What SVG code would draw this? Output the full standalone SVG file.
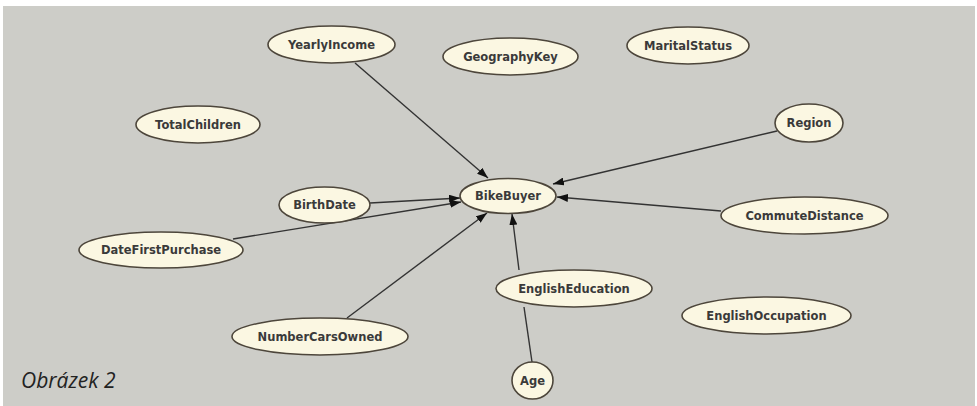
<svg xmlns="http://www.w3.org/2000/svg" width="977" height="406" viewBox="0 0 977 406">
  <style>
    .node ellipse { fill: #fbf7e2; stroke: #4d463b; stroke-width: 1.6; }
    .node text { font-family: "DejaVu Sans", Verdana, sans-serif; font-size: 11.5px; font-weight: bold; fill: #3a3a3a; text-anchor: middle; dominant-baseline: central; }
    .edge { stroke: #333; stroke-width: 1.4; fill: none; }
    .arrow { marker-end: url(#ah); }
    .caption { font-family: "Open Sans", "Liberation Sans", sans-serif; font-style: italic; font-size: 21px; fill: #222; }
  </style>
  <defs>
    <marker id="ah" markerWidth="12" markerHeight="8" refX="11" refY="4" orient="auto" markerUnits="userSpaceOnUse">
      <path d="M0,0 L11,4 L0,8 Z" fill="#111"/>
    </marker>
  </defs>
  <rect x="0" y="0" width="977" height="406" fill="#ffffff"/>
  <rect x="3" y="6" width="972" height="400" fill="#cdcdc8"/>

  <g id="connectors">
    <line class="edge arrow" x1="355" y1="63" x2="488" y2="178"/>
    <line class="edge arrow" x1="777" y1="131" x2="553" y2="184"/>
    <line class="edge arrow" x1="721" y1="211" x2="557" y2="197"/>
    <line class="edge arrow" x1="370" y1="203" x2="460" y2="198"/>
    <line class="edge arrow" x1="233" y1="239" x2="461" y2="202"/>
    <line class="edge arrow" x1="347" y1="318" x2="487" y2="213"/>
    <line class="edge arrow" x1="519" y1="270" x2="512" y2="214"/>
    <line class="edge" x1="532" y1="362" x2="524" y2="307"/>
  </g>

  <g id="YearlyIncome" class="node"><ellipse cx="331.5" cy="44.5" rx="63.5" ry="18.5"/><text x="331.5" y="44.5">YearlyIncome</text></g>
  <g id="GeographyKey" class="node"><ellipse cx="510.5" cy="56.5" rx="67.5" ry="18.5"/><text x="510.5" y="56.5">GeographyKey</text></g>
  <g id="MaritalStatus" class="node"><ellipse cx="688" cy="45.5" rx="61" ry="18.5"/><text x="688" y="45.5">MaritalStatus</text></g>
  <g id="TotalChildren" class="node"><ellipse cx="198" cy="124.5" rx="62" ry="18.5"/><text x="198" y="124.5">TotalChildren</text></g>
  <g id="Region" class="node"><ellipse cx="809" cy="123" rx="34" ry="19"/><text x="809" y="123">Region</text></g>
  <g id="BikeBuyer" class="node"><ellipse cx="508" cy="196" rx="48" ry="17.5"/><text x="508" y="196">BikeBuyer</text></g>
  <g id="BirthDate" class="node"><ellipse cx="324.5" cy="205" rx="45.5" ry="18"/><text x="324.5" y="205">BirthDate</text></g>
  <g id="CommuteDistance" class="node"><ellipse cx="804.5" cy="215.5" rx="83.5" ry="18.5"/><text x="804.5" y="215.5">CommuteDistance</text></g>
  <g id="DateFirstPurchase" class="node"><ellipse cx="161" cy="250" rx="82" ry="18"/><text x="161" y="250">DateFirstPurchase</text></g>
  <g id="EnglishEducation" class="node"><ellipse cx="574" cy="288.5" rx="78" ry="18.5"/><text x="574" y="288.5">EnglishEducation</text></g>
  <g id="EnglishOccupation" class="node"><ellipse cx="766.5" cy="315.5" rx="84.5" ry="18.5"/><text x="766.5" y="315.5">EnglishOccupation</text></g>
  <g id="NumberCarsOwned" class="node"><ellipse cx="320" cy="336.5" rx="88" ry="18.5"/><text x="320" y="336.5">NumberCarsOwned</text></g>
  <g id="Age" class="node"><ellipse cx="532.5" cy="380.5" rx="20.5" ry="18.5"/><text x="532.5" y="380.5">Age</text></g>

  <text class="caption" x="21" y="388">Obrázek 2</text>
</svg>
